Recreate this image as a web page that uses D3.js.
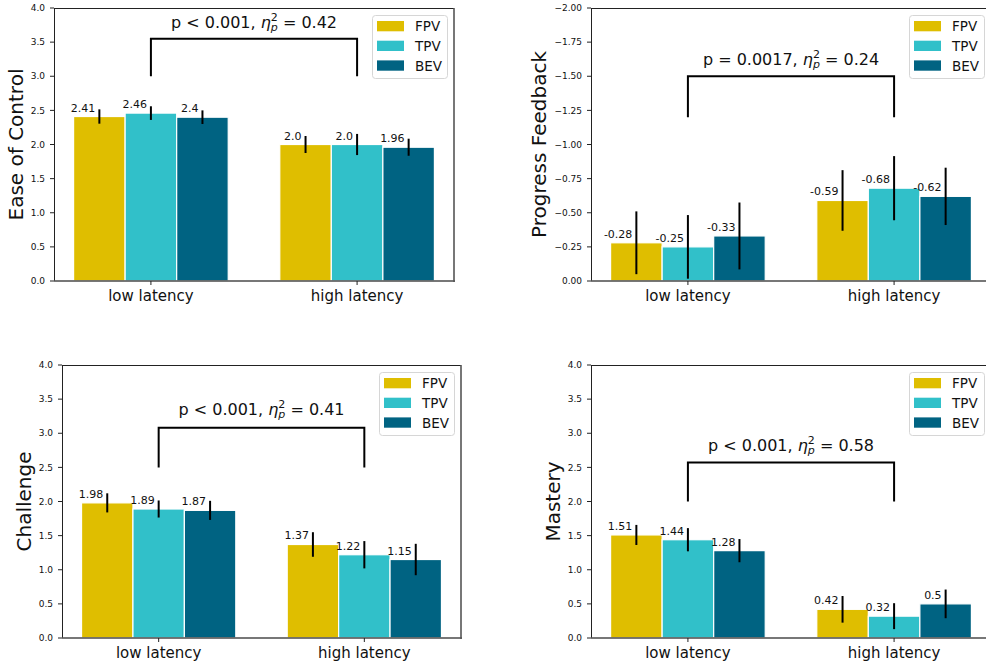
<!DOCTYPE html>
<html>
<head>
<meta charset="utf-8">
<script src="https://cdn.jsdelivr.net/npm/d3@7"></script>
<style>
  body { margin:0; background:#fff; }
  svg text { font-family: "DejaVu Sans", sans-serif; fill:#111; }
</style>
</head>
<body>
<div id="canvas" class="canvas"></div>
<script>
// data
var conditions = ["low latency", "high latency"];
var views = ["FPV", "TPV", "BEV"];
var colors = ["#dfbe00", "#31c0c9", "#006382"];

var easeMeans = [[2.41, 2.46, 2.40], [2.00, 2.00, 1.96]];
var easeErr = [[0.105, 0.10, 0.10], [0.125, 0.155, 0.125]];
var progressMeans = [[-0.28, -0.25, -0.33], [-0.59, -0.68, -0.62]];
var progressErr = [[0.23, 0.233, 0.245], [0.222, 0.235, 0.21]];
var challengeMeans = [[1.98, 1.89, 1.87], [1.37, 1.22, 1.15]];
var challengeErr = [[0.14, 0.125, 0.14], [0.18, 0.20, 0.23]];
var masteryMeans = [[1.51, 1.44, 1.28], [0.42, 0.32, 0.50]];
var masteryErr = [[0.147, 0.17, 0.17], [0.195, 0.19, 0.21]];

var yLabels = ["Ease of Control", "Progress Feedback", "Challenge", "Mastery"];
var posTicks = [0, 0.5, 1, 1.5, 2, 2.5, 3, 3.5, 4];
var negTicks = [0, -0.25, -0.5, -0.75, -1, -1.25, -1.5, -1.75, -2];

// significance annotations
var pTexts = ["p < 0.001", "p = 0.0017", "p < 0.001", "p < 0.001"];
var etaTexts = ["0.42", "0.24", "0.41", "0.58"];
var bracketLow = [3.0, -1.2, 2.5, 2.0];
var bracketHigh = [3.55, -1.5, 3.08, 2.57];
var textLevel = [3.70, -1.58, 3.27, 2.74];

var panels = [
  {left:54, top:8, w:400, h:273, means:easeMeans, err:easeErr, ticks:posTicks, dom:[0,4], fmt:".1f"},
  {left:591, top:8, w:400, h:273, means:progressMeans, err:progressErr, ticks:negTicks, dom:[0,-2], fmt:".2f"},
  {left:62, top:365, w:399, h:273, means:challengeMeans, err:challengeErr, ticks:posTicks, dom:[0,4], fmt:".1f"},
  {left:591, top:365, w:400, h:273, means:masteryMeans, err:masteryErr, ticks:posTicks, dom:[0,4], fmt:".1f"}
];

var svg = d3.select('.canvas')
  .append('svg')
  .attr('width', 986)
  .attr('height', 668);

function label(v){
  var s = String(v);
  if (s.indexOf('.') < 0) s += '.0';
  return s;
}

panels.forEach(function(p, k){
  var x = d3.scaleLinear().domain([-0.47, 1.47]).range([p.left, p.left + p.w]);
  var y = d3.scaleLinear().domain(p.dom).range([p.top + p.h, p.top]);
  var bw = x(0.25) - x(0);
  var g = svg.append('g');

  // bars
  var rows = [];
  p.means.forEach(function(grp, i){
    grp.forEach(function(v, j){
      rows.push({i:i, j:j, v:v, e:p.err[i][j], cx:i + (j - 1) * 0.25});
    });
  });

  g.selectAll('rect.bar')
    .data(rows)
    .enter()
    .append('rect')
    .attr('class', 'bar')
    .attr('x', function(d){ return x(d.cx) - bw/2; })
    .attr('width', bw)
    .attr('y', function(d){ return Math.min(y(0), y(d.v)); })
    .attr('height', function(d){ return Math.abs(y(d.v) - y(0)); })
    .style('fill', function(d){ return colors[d.j]; })
    .style('stroke', '#fff')
    .style('stroke-width', 1.2);

  // error bars
  g.selectAll('line.err')
    .data(rows)
    .enter()
    .append('line')
    .attr('x1', function(d){ return x(d.cx); })
    .attr('x2', function(d){ return x(d.cx); })
    .attr('y1', function(d){ return y(d.v - d.e); })
    .attr('y2', function(d){ return y(d.v + d.e); })
    .style('stroke', '#000')
    .style('stroke-width', 2);

  // value labels
  g.selectAll('text.val')
    .data(rows)
    .enter()
    .append('text')
    .attr('x', function(d){ return x(d.cx) - 4; })
    .attr('y', function(d){ return Math.min(y(0), y(d.v)) - 5; })
    .attr('text-anchor', 'end')
    .style('font-size', '11px')
    .text(function(d){ return label(d.v); });

  // spines
  var l = p.left, r = p.left + p.w, t = p.top, b = p.top + p.h;
  g.append('line').attr('x1', l).attr('x2', r).attr('y1', t + 0.5).attr('y2', t + 0.5)
    .style('stroke', '#222').style('stroke-width', 1);
  g.append('line').attr('x1', l + 0.5).attr('x2', l + 0.5).attr('y1', t).attr('y2', b)
    .style('stroke', '#222').style('stroke-width', 1);
  g.append('line').attr('x1', r).attr('x2', r).attr('y1', t).attr('y2', b + 1)
    .style('stroke', '#555').style('stroke-opacity', 0.8).style('stroke-width', 2);
  g.append('line').attr('x1', l).attr('x2', r + 1).attr('y1', b).attr('y2', b)
    .style('stroke', '#555').style('stroke-opacity', 0.8).style('stroke-width', 2);

  // y axis
  var f = d3.format(p.fmt);
  var yt = g.selectAll('g.ytick').data(p.ticks).enter().append('g');
  yt.append('line')
    .attr('x1', l - 4).attr('x2', l)
    .attr('y1', function(d){ return y(d); }).attr('y2', function(d){ return y(d); })
    .style('stroke', '#222').style('stroke-width', 1);
  var ytl = yt.append('text')
    .attr('x', l - 9)
    .attr('y', function(d){ return y(d); })
    .attr('dy', '0.35em')
    .attr('text-anchor', 'end')
    .style('font-size', '9px')
    .text(function(d){ return f(d); });

  var minX = d3.min(ytl.nodes(), function(n){ return n.getBBox().x; });
  g.append('text')
    .attr('transform', 'translate(' + (minX - 8) + ',' + (t + p.h/2) + ') rotate(-90)')
    .attr('text-anchor', 'middle')
    .style('font-size', '20px')
    .text(yLabels[k]);

  // x axis
  var xt = g.selectAll('g.xtick').data(conditions).enter().append('g');
  xt.append('line')
    .attr('x1', function(d, i){ return x(i); }).attr('x2', function(d, i){ return x(i); })
    .attr('y1', b).attr('y2', b + 4)
    .style('stroke', '#222').style('stroke-width', 1);
  xt.append('text')
    .attr('x', function(d, i){ return x(i); })
    .attr('y', b + 20)
    .attr('text-anchor', 'middle')
    .style('font-size', '15px')
    .text(function(d){ return d; });

  // significance bracket
  var x0 = x(0), x1 = x(1);
  g.append('path')
    .attr('d', 'M' + x0 + ',' + y(bracketLow[k]) + 'V' + y(bracketHigh[k]) +
               'H' + x1 + 'V' + y(bracketLow[k]))
    .style('fill', 'none').style('stroke', '#000').style('stroke-width', 2);

  var at = g.append('text')
    .attr('x', (x0 + x1) / 2)
    .attr('y', y(textLevel[k]))
    .attr('text-anchor', 'middle')
    .style('font-size', '16px');
  at.append('tspan').text(pTexts[k] + ', ');
  at.append('tspan').style('font-style', 'italic').text('η');
  at.append('tspan').attr('dy', -7).style('font-size', '11px').text('2');
  at.append('tspan').attr('dx', -7).attr('dy', 10).style('font-size', '11px').style('font-style', 'italic').text('p');
  at.append('tspan').attr('dy', -3).text(' = ' + etaTexts[k]);

  // legend
  var lw = 75, lh = 63;
  var lx = r - 7 - lw, ly = t + 7;
  var lg = g.append('g');
  lg.append('rect')
    .attr('x', lx + 0.5).attr('y', ly + 0.5)
    .attr('width', lw).attr('height', lh)
    .attr('rx', 3)
    .style('fill', '#fff').style('fill-opacity', 0.8)
    .style('stroke', '#d6d6d6').style('stroke-width', 1);
  views.forEach(function(v, j){
    lg.append('rect')
      .attr('x', lx + 5).attr('y', ly + 6 + j * 19.7)
      .attr('width', 27).attr('height', 10.3)
      .style('fill', colors[j]);
    lg.append('text')
      .attr('x', lx + 43).attr('y', ly + 16.3 + j * 19.7)
      .style('font-size', '13.5px')
      .text(v);
  });
});
</script>
</body>
</html>
